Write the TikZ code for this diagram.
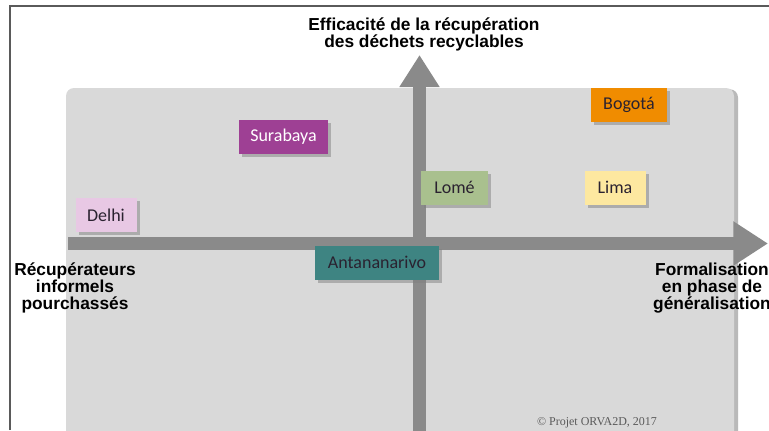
\documentclass[tikz,border=0pt]{standalone}
\usepackage{fontspec}
\setmainfont{Liberation Sans}
\newfontfamily\cityfont{Carlito}
\newfontfamily\notefont{Liberation Serif}
\usetikzlibrary{arrows.meta,shadows}

\definecolor{paneltint}{HTML}{D9D9D9}
\definecolor{axisgray}{HTML}{8A8A8A}
\definecolor{framegray}{HTML}{5A5A5A}
\definecolor{cityink}{HTML}{2A2230}
\definecolor{delhicol}{HTML}{E8C8E4}
\definecolor{surabayacol}{HTML}{9E4094}
\definecolor{bogotacol}{HTML}{F08C00}
\definecolor{lomecol}{HTML}{A9C08E}
\definecolor{limacol}{HTML}{FDE8A0}
\definecolor{antacol}{HTML}{3E8482}

\tikzset{
  city/.style={inner sep=0pt, minimum height=25.5pt, text=cityink,
    font=\cityfont\fontsize{13.5}{15}\selectfont,
    drop shadow={shadow xshift=2.5pt, shadow yshift=-2.5pt, opacity=0.5}},
  axislabel/.style={font=\bfseries\fontsize{13}{12.75}\selectfont, align=center},
  axisbar/.style={draw=axisgray, line width=9.75pt},
}

\begin{document}
\begin{tikzpicture}[x=0.75pt,y=0.75pt,yscale=-1,xscale=1]
    \useasboundingbox (0,0) rectangle (769,430);

    %Frame
    \draw [framegray, line width=0.9pt] (10,430) -- (10,6) -- (769,6) ;

    %Panel
    \fill [paneltint, rounded corners=6pt, drop shadow={shadow xshift=3pt, shadow yshift=-1pt, opacity=0.55}] (66,88) rectangle (734,445) ;

    %Axes
    \coordinate (hstart) at (68,243.5);
    \coordinate (hend) at (768,243.5);
    \coordinate (vstart) at (419.5,445);
    \coordinate (vend) at (419.5,55);
    \draw [axisbar, -{Triangle[length=24pt,width=28.5pt]}] (vstart) -- (vend) ;
    \draw [axisbar, -{Triangle[length=26pt,width=31.5pt]}] (hstart) -- (hend) ;

    % Text Node
    \draw (424,34) node (ylabel) [axislabel] {Efficacité de la récupération\\des déchets recyclables};
    % Text Node
    \draw (75,288) node (leftlabel) [axislabel] {Récupérateurs\\informels\\pourchassés};
    % Text Node
    \draw (712,288) node (rightlabel) [axislabel] {Formalisation\\en phase de\\généralisation};

    %Cities
    \draw (106,215) node (delhi) [city, fill=delhicol, minimum width=45.75pt] {Delhi};
    \draw (283.5,136.5) node (surabaya) [city, fill=surabayacol, minimum width=66.75pt, text=white] {Surabaya};
    \draw (629,104.5) node (bogota) [city, fill=bogotacol, minimum width=57pt] {Bogotá};
    \draw (454.5,187.5) node (lome) [city, fill=lomecol, minimum width=50.25pt] {Lomé};
    \draw (615,187.5) node (lima) [city, fill=limacol, minimum width=45.75pt] {Lima};
    \draw (377,262.5) node (antananarivo) [city, fill=antacol, minimum width=93pt] {Antananarivo};

    % Text Node
    \draw (597,423) node (credit) [font=\notefont\fontsize{9}{10}\selectfont, text=framegray] {© Projet ORVA2D, 2017};

\end{tikzpicture}
\end{document}
